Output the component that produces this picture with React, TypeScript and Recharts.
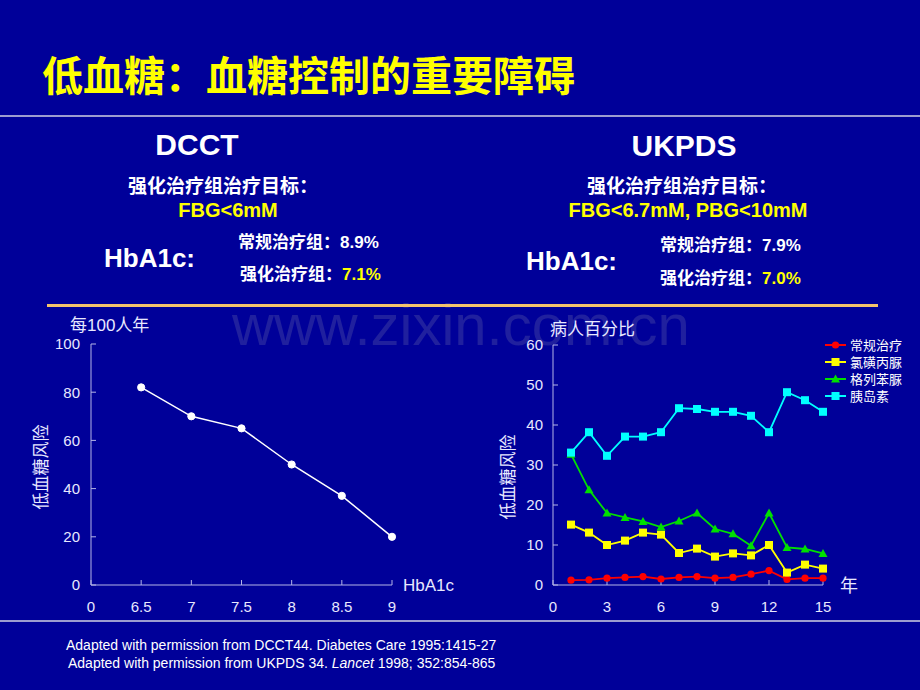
import React from "react";
import { Legend, Line, LineChart, XAxis, YAxis } from "recharts";

// DCCT: hypoglycaemia per 100 patient-years vs HbA1c
const hba1cLabels = ["0", "6.5", "7", "7.5", "8", "8.5", "9"];
const riskPer100 = [null, 82, 70, 65, 50, 37, 20];

// UKPDS: % of patients with hypoglycaemia by year
const years = [1, 2, 3, 4, 5, 6, 7, 8, 9, 10, 11, 12, 13, 14, 15];
const conventional = [1.2, 1.3, 1.7, 1.9, 2.1, 1.5, 1.9, 2.1, 1.7, 1.9, 2.7, 3.6, 1.4, 1.7, 1.7];
const chlorpropamide = [15.1, 13.1, 10, 11.1, 13.1, 12.6, 8, 9.1, 7.1, 7.9, 7.4, 10, 3.1, 5.1, 4.1];
const glibenclamide = [32.7, 23.8, 18, 16.9, 15.9, 14.5, 16, 18, 14, 12.8, 9.8, 18, 9.4, 9, 7.9];
const insulin = [33.1, 38.2, 32.3, 37.1, 37.1, 38.2, 44.2, 44, 43.3, 43.3, 42.3, 38.2, 48.2, 46.2, 43.3];

const leftTicks = [0, 20, 40, 60, 80, 100];
const rightYTicks = [0, 10, 20, 30, 40, 50, 60];
const rightXTicks = [0, 3, 6, 9, 12, 15];

const dcctData = hba1cLabels.map((h, i) => ({ hba1c: h, risk: riskPer100[i] }));
const ukpdsData = years.map((y, i) => ({
  year: y,
  conventional: conventional[i],
  chlorpropamide: chlorpropamide[i],
  glibenclamide: glibenclamide[i],
  insulin: insulin[i]
}));

const BG = "#000099";
const AXIS = "#b4b4e6";
const TICK = "#e8e8ff";
const LATIN = "'Liberation Sans', Arial, 'Noto Sans CJK SC', sans-serif";
const CJK = "'Noto Sans CJK SC', sans-serif";

const series = [
  { key: "conventional", name: "常规治疗", color: "#ff0000", shape: "circle" },
  { key: "chlorpropamide", name: "氯磺丙脲", color: "#ffff00", shape: "square" },
  { key: "glibenclamide", name: "格列苯脲", color: "#00e000", shape: "triangle" },
  { key: "insulin", name: "胰岛素", color: "#00ffff", shape: "square" }
];

const marker = (shape: string, cx: number, cy: number, color: string, key?: any) => {
  if (shape === "circle") return <circle key={key} cx={cx} cy={cy} r={3.6} fill={color} />;
  if (shape === "triangle")
    return (
      <polygon
        key={key}
        points={`${cx},${cy - 4.5} ${cx - 4.5},${cy + 3.5} ${cx + 4.5},${cy + 3.5}`}
        fill={color}
      />
    );
  return <rect key={key} x={cx - 4} y={cy - 4} width={8} height={8} fill={color} />;
};

const renderLegend = () => (
  <div>
    {series.map((s) => (
      <div key={s.key} style={{ display: "flex", alignItems: "center", height: 17, overflow: "hidden" }}>
        <svg width={22} height={12}>
          <line x1={0} x2={21} y1={6} y2={6} stroke={s.color} strokeWidth={2} />
          {marker(s.shape, 10.5, 6, s.color)}
        </svg>
        <span style={{ marginLeft: 3, fontSize: 13, color: "#ffffff", fontFamily: CJK, lineHeight: "13px" }}>
          {s.name}
        </span>
      </div>
    ))}
  </div>
);

const App: React.FC = () => {
  return (
    <div
      style={{
        position: "absolute",
        left: 0,
        top: 0,
        width: 920,
        height: 690,
        background: BG,
        overflow: "hidden"
      }}
    >
      {/* slide text and rules */}
      <svg width={920} height={690} style={{ position: "absolute", left: 0, top: 0 }}>
        <text x={232} y={345} fontSize={58} fill="#20209e" fontFamily={LATIN}>
          www.zixin.com.cn
        </text>
        <text x={42} y={91} fontSize={41} fontWeight="bold" fill="#ffff00" fontFamily={CJK}>
          低血糖：血糖控制的重要障碍
        </text>
        <rect x={0} y={115} width={920} height={2} fill="#9c9cd0" />
        <rect x={47} y={304} width={831} height={3} fill="#f4c46c" />
        <rect x={0} y={620} width={920} height={2} fill="#9c9cd0" />

        {/* DCCT block */}
        <text x={197} y={155} fontSize={30} fontWeight="bold" fill="#fff" textAnchor="middle" fontFamily={LATIN}>
          DCCT
        </text>
        <text x={223} y={193} fontSize={19} fontWeight="bold" fill="#fff" textAnchor="middle" fontFamily={CJK}>
          强化治疗组治疗目标：
        </text>
        <text x={228} y={217} fontSize={20} fontWeight="bold" fill="#ffff00" textAnchor="middle" fontFamily={LATIN}>
          {"FBG<6mM"}
        </text>
        <text x={104} y={267} fontSize={26} fontWeight="bold" fill="#fff" fontFamily={LATIN}>
          HbA1c:
        </text>
        <text x={238} y={248} fontSize={17} fontWeight="bold" fill="#fff" fontFamily={LATIN}>
          常规治疗组：8.9%
        </text>
        <text x={240} y={280} fontSize={17} fontWeight="bold" fill="#fff" fontFamily={LATIN}>
          强化治疗组：<tspan fill="#ffff00">7.1%</tspan>
        </text>

        {/* UKPDS block */}
        <text x={684} y={156} fontSize={30} fontWeight="bold" fill="#fff" textAnchor="middle" fontFamily={LATIN}>
          UKPDS
        </text>
        <text x={682} y={193} fontSize={19} fontWeight="bold" fill="#fff" textAnchor="middle" fontFamily={CJK}>
          强化治疗组治疗目标：
        </text>
        <text x={688} y={217} fontSize={20} fontWeight="bold" fill="#ffff00" textAnchor="middle" fontFamily={LATIN}>
          {"FBG<6.7mM, PBG<10mM"}
        </text>
        <text x={526} y={270} fontSize={26} fontWeight="bold" fill="#fff" fontFamily={LATIN}>
          HbA1c:
        </text>
        <text x={660} y={251} fontSize={17} fontWeight="bold" fill="#fff" fontFamily={LATIN}>
          常规治疗组：7.9%
        </text>
        <text x={660} y={284} fontSize={17} fontWeight="bold" fill="#fff" fontFamily={LATIN}>
          强化治疗组：<tspan fill="#ffff00">7.0%</tspan>
        </text>

        {/* axis captions */}
        <text x={70} y={331} fontSize={17} fill={TICK} fontFamily={LATIN}>
          每100人年
        </text>
        <text x={550} y={335} fontSize={17} fill={TICK} fontFamily={CJK}>
          病人百分比
        </text>
        <text x={403} y={591} fontSize={17} fill={TICK} fontFamily={LATIN}>
          HbA1c
        </text>
        <text x={840} y={592} fontSize={18} fill={TICK} fontFamily={CJK}>
          年
        </text>
        <text transform="translate(47,467) rotate(-90)" fontSize={17} fill={TICK} textAnchor="middle" fontFamily={CJK}>
          低血糖风险
        </text>
        <text transform="translate(514,477) rotate(-90)" fontSize={17} fill={TICK} textAnchor="middle" fontFamily={CJK}>
          低血糖风险
        </text>

        {/* references */}
        <text x={66} y={650} fontSize={14} fill="#fff" fontFamily={LATIN}>
          Adapted with permission from DCCT44. Diabetes Care 1995:1415-27
        </text>
        <text x={68} y={668} fontSize={14} fill="#fff" fontFamily={LATIN}>
          Adapted with permission from UKPDS 34. <tspan fontStyle="italic">Lancet</tspan> 1998; 352:854-865
        </text>
      </svg>

      {/* DCCT chart */}
      <div style={{ position: "absolute", left: 30, top: 330 }}>
        <LineChart width={400} height={290} data={dcctData} margin={{ top: 14, right: 38, bottom: 0, left: 0 }}>
          <XAxis
            dataKey="hba1c"
            type="category"
            interval={0}
            height={35}
            stroke={AXIS}
            tickSize={-5}
            tickMargin={21}
            tick={{ fill: TICK, fontSize: 15, fontFamily: LATIN }}
          />
          <YAxis
            domain={[0, 100]}
            ticks={leftTicks}
            width={61}
            stroke={AXIS}
            tickSize={-5}
            tickMargin={16}
            tick={{ fill: TICK, fontSize: 15, fontFamily: LATIN }}
          />
          <Line
            dataKey="risk"
            stroke="#ffffff"
            strokeWidth={1.5}
            dot={{ r: 3.6, fill: "#ffffff", stroke: "#ffffff", strokeWidth: 1 }}
            isAnimationActive={false}
          />
        </LineChart>
      </div>

      {/* UKPDS chart */}
      <div style={{ position: "absolute", left: 490, top: 330 }}>
        <LineChart width={420} height={290} data={ukpdsData} margin={{ top: 15, right: 87, bottom: 0, left: 0 }}>
          <XAxis
            dataKey="year"
            type="number"
            domain={[0, 15]}
            ticks={rightXTicks}
            height={35}
            stroke={AXIS}
            tickSize={-5}
            tickMargin={21}
            tick={{ fill: TICK, fontSize: 15, fontFamily: LATIN }}
          />
          <YAxis
            domain={[0, 60]}
            ticks={rightYTicks}
            width={63}
            stroke={AXIS}
            tickSize={-5}
            tickMargin={15}
            tick={{ fill: TICK, fontSize: 15, fontFamily: LATIN }}
          />
          <Legend
            layout="vertical"
            align="center"
            verticalAlign="middle"
            content={renderLegend}
            wrapperStyle={{ left: 335, top: 6, width: 90 }}
          />
          {series.map((s) => (
            <Line
              key={s.key}
              dataKey={s.key}
              name={s.name}
              stroke={s.color}
              strokeWidth={1.8}
              dot={(p: any) => marker(s.shape, p.cx, p.cy, s.color, `${s.key}-${p.index}`)}
              isAnimationActive={false}
            />
          ))}
        </LineChart>
      </div>
    </div>
  );
};

export default App;
